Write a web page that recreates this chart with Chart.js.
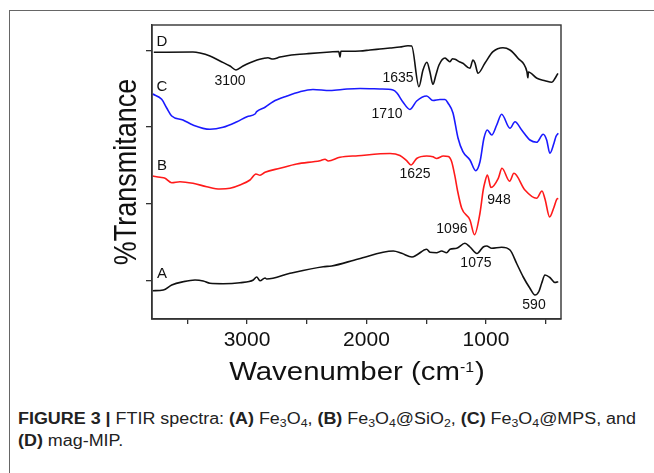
<!DOCTYPE html>
<html>
<head>
<meta charset="utf-8">
<script src="https://cdn.jsdelivr.net/npm/chart.js@4.4.0/dist/chart.umd.min.js"></script>
<style>
html, body { margin: 0; padding: 0; background: #fff; width: 654px; height: 473px; overflow: hidden; }
#frame { position: absolute; left: 9px; top: 10px; width: 700px; height: 500px; border-left: 1px solid #666; border-top: 1px solid #666; }
#c { position: absolute; left: 0; top: 0; }
#cap { position: absolute; left: 18px; top: 408px; font: 16px "Liberation Sans", Arial, sans-serif; line-height: 22px; color: #222; white-space: nowrap; transform-origin: 0 0; }
#cap sub { font-size: 11px; line-height: 0; vertical-align: -3px; }
</style>
</head>
<body>
<div id="frame"></div>
<canvas id="c" width="654" height="400"></canvas>
<div id="cap">
  <span id="l1"><b>FIGURE 3 |</b> FTIR spectra: <b>(A)</b> Fe<sub>3</sub>O<sub>4</sub>, <b>(B)</b> Fe<sub>3</sub>O<sub>4</sub>@SiO<sub>2</sub>, <b>(C)</b> Fe<sub>3</sub>O<sub>4</sub>@MPS, and</span><br>
  <span><b>(D)</b> mag-MIP.</span>
</div>
<script>
// spectra as [wavenumber, transmittance (a.u., offset)]
const curveA = [[3789,28.3],[3700,29],[3630,34],[3533,37.3],[3435,39],[3366,38],[3310,35.7],[3198,35.3],[3059,36.3],[2947,39],[2919,42],[2891,38.3],[2849,41],[2835,40],[2640,45.7],[2362,52.3],[2291,53],[2069,60],[1776,68],[1705,65.7],[1619,62],[1580,64],[1496,69.7],[1469,66.7],[1413,66.3],[1371,68],[1329,66.3],[1301,69.7],[1245,70.7],[1176,75.7],[1134,72],[1075,65.5],[1023,72],[994,73],[952,70.7],[869,71.7],[799,69],[741,55],[688,42],[632,30.7],[590,24],[557,27.5],[534,35.7],[506,44],[465,41.5],[423,36.5],[395,37.3]];
const curveB = [[3789,143],[3728,141.7],[3686,140.7],[3630,136.3],[3561,137.3],[3452,135.7],[3337,132.3],[3226,130],[3142,130.7],[3059,134],[2975,139],[2925,145],[2891,143.7],[2849,146.7],[2724,150.7],[2584,155],[2389,158.3],[2347,159.7],[2320,158],[2222,161.7],[2071,163.3],[1803,165.5],[1720,163.5],[1664,158.3],[1628,154],[1580,160.5],[1496,163],[1444,162.3],[1413,160.5],[1357,163],[1315,162.5],[1287,157.3],[1259,142.3],[1239,129],[1203,110.7],[1134,99],[1096,84.3],[1050,106],[1023,129],[1008,137.3],[988,144],[958,131.5],[897,140.7],[866,150.7],[802,137.8],[766,145.7],[674,129],[576,120.7],[531,128],[506,120],[467,102],[434,110.7],[408,119.7],[395,120.7]];
const curveC = [[3789,225],[3714,219.7],[3672,211],[3630,203],[3536,199],[3452,194],[3310,189.7],[3201,191.7],[3084,197.3],[3000,202.3],[2933,205],[2919,207.3],[2849,211.7],[2782,217.3],[2665,223],[2556,227.3],[2448,229.5],[2305,228.5],[2163,230],[2054,230.5],[1887,230],[1778,229],[1745,226],[1695,217],[1636,209.5],[1580,218],[1496,223],[1444,218.5],[1385,219.5],[1343,219.5],[1318,216],[1276,206],[1234,181],[1193,167.3],[1134,159],[1086,148.3],[1050,157.3],[1017,180.7],[989,189],[952,184],[910,194],[869,204.7],[799,190.7],[757,197.3],[701,189],[632,179],[576,176.7],[521,184.7],[492,179],[465,165.7],[431,175.7],[415,182.3],[395,185.7]];
const curveD = [[3780,266.7],[3452,267],[3393,266],[3310,263],[3226,258],[3142,253],[3092,249],[3033,253],[2975,256.3],[2916,259],[2866,260.5],[2824,261.3],[2800,260.3],[2782,260],[2724,262],[2665,263.3],[2582,264.5],[2498,265.3],[2389,266.3],[2305,267],[2232,267.5],[2222,262],[2214,267.8],[2138,267.7],[2054,268],[1971,269],[1887,270],[1803,271],[1720,272],[1653,273.3],[1622,273],[1561,232.3],[1527,249],[1494,256.7],[1469,247],[1444,234.7],[1419,244],[1393,254],[1343,261],[1322,259],[1301,257.3],[1280,260.3],[1259,259.7],[1218,257],[1193,255.7],[1134,250.7],[1109,259],[1092,256],[1067,245.7],[1008,256],[941,267.3],[858,271.3],[799,269],[732,260.7],[657,247.3],[649,241.3],[645,247],[573,240.7],[506,238.3],[448,236.7],[420,241],[398,245.7]];

const xTickValues = [3500, 3000, 2500, 2000, 1500, 1000, 500];
const xLabelValues = [3000, 2000, 1000];
const yTickValues = [38, 115, 192, 268];

const labelText = ['D', 'C', 'B', 'A', '3100', '1635', '1710', '1625', '1096', '948', '1075', '590'];
const labelWn   = [3711, 3711, 3711, 3711, 3142, 1736, 1828, 1594, 1285, 891, 1084, 598];
const labelT    = [277, 232, 153, 45, 238, 241, 205, 145, 90, 119, 56, 14];

const FONT = '"Liberation Sans", Arial, sans-serif';

function series(pts, color) {
    return {
        data: pts.map(p => ({x: p[0], y: p[1]})),
        borderColor: color,
        borderWidth: 1.6,
        pointRadius: 0,
        fill: false,
        cubicInterpolationMode: 'monotone'
    };
}

const figText = {
    id: 'figText',
    afterDraw(chart) {
        const ctx = chart.ctx;
        const xs = chart.scales.x, ys = chart.scales.y;
        const a = chart.chartArea;
        ctx.save();
        // box around plot
        ctx.strokeStyle = '#333';
        ctx.lineWidth = 1.4;
        ctx.strokeRect(a.left, a.top, a.right - a.left, a.bottom - a.top);

        // peak + curve labels
        ctx.fillStyle = '#111';
        ctx.textAlign = 'center';
        ctx.textBaseline = 'middle';
        labelText.forEach((t, i) => {
            ctx.font = (t.length === 1 ? '15px ' : '14px ') + FONT;
            ctx.fillText(t, xs.getPixelForValue(labelWn[i]), ys.getPixelForValue(labelT[i]));
        });

        // x title with superscript
        ctx.save();
        ctx.translate(357, 380);
        ctx.scale(1.13, 1);
        ctx.textAlign = 'left';
        ctx.textBaseline = 'alphabetic';
        const big = '26px ' + FONT, small = '14px ' + FONT;
        ctx.font = big;
        const w1 = ctx.measureText('Wavenumber (cm').width;
        const w3 = ctx.measureText(')').width;
        ctx.font = small;
        const w2 = ctx.measureText('-1').width + 1;
        let x0 = -(w1 + w2 + w3) / 2;
        ctx.font = big;
        ctx.fillText('Wavenumber (cm', x0, 0);
        ctx.font = small;
        ctx.fillText('-1', x0 + w1, -8);
        ctx.font = big;
        ctx.fillText(')', x0 + w1 + w2, 0);
        ctx.restore();

        // y title
        ctx.save();
        ctx.translate(136, (a.top + a.bottom) / 2);
        ctx.scale(1.13, 1);
        ctx.rotate(-Math.PI / 2);
        ctx.font = '27px ' + FONT;
        ctx.textAlign = 'center';
        ctx.textBaseline = 'alphabetic';
        ctx.fillText('%Transmitance', 0, 0);
        ctx.restore();

        ctx.restore();
    }
};

new Chart(document.getElementById('c'), {
    type: 'line',
    data: {
        datasets: [
            series(curveA, '#111111'),
            series(curveB, '#ff1a1a'),
            series(curveC, '#1a1aff'),
            series(curveD, '#111111')
        ]
    },
    options: {
        responsive: false,
        animation: false,
        devicePixelRatio: 1,
        layout: { padding: { left: 0, top: 25, right: 93, bottom: 0 } },
        plugins: { legend: { display: false }, tooltip: { enabled: false } },
        scales: {
            x: {
                type: 'linear',
                reverse: true,
                min: 372,
                max: 3795,
                afterBuildTicks: s => { s.ticks = xTickValues.map(v => ({value: v})); },
                afterFit: s => { s.height = 81; },
                grid: { drawOnChartArea: false, tickLength: 5, color: '#333', lineWidth: 1.3 },
                border: { color: '#333', width: 1.4 },
                ticks: {
                    autoSkip: false, maxRotation: 0, padding: 4, color: '#111',
                    font: { size: 21, family: FONT },
                    callback: v => xLabelValues.includes(v) ? String(v) : ''
                }
            },
            y: {
                min: 0,
                max: 294,
                afterBuildTicks: s => { s.ticks = yTickValues.map(v => ({value: v})); },
                afterFit: s => { s.width = 152; },
                grid: { drawOnChartArea: false, tickLength: 6, color: '#333', lineWidth: 1.3 },
                border: { color: '#333', width: 1.4 },
                ticks: { callback: () => '' }
            }
        }
    },
    plugins: [figText]
});

// caption: fit first line to the width seen in the figure
const cap = document.getElementById('cap');
const w = document.getElementById('l1').getBoundingClientRect().width;
cap.style.transform = 'scaleX(' + (618 / w) + ')';
</script>
</body>
</html>
